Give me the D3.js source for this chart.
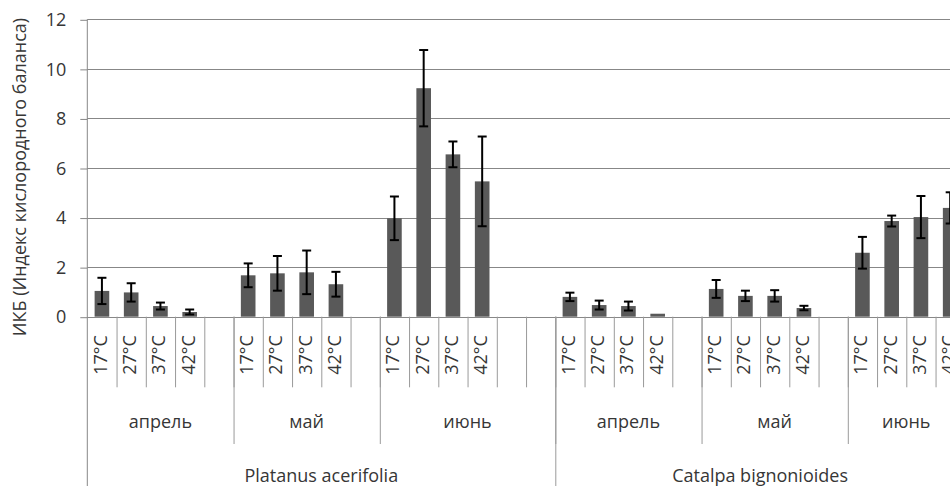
<!DOCTYPE html>
<html><head><meta charset="utf-8">
<script src="https://cdn.jsdelivr.net/npm/d3@7"></script>
<style>
html,body{margin:0;padding:0;background:#fff;overflow:hidden}
svg{display:block;font-family:"Open Sans",sans-serif}
</style></head><body>
<svg id="c" width="950" height="486"></svg>
<script>
// ---- data ----
const species = ["Platanus acerifolia", "Catalpa bignonioides"];
const months = ["апрель", "май", "июнь"];
const temps = ["17°C", "27°C", "37°C", "42°C"];
// empty category slots after each month group (per species)
const blankSlots = [[1, 1, 2], [1, 1, 0]];
const platanusValues = [1.04, 0.98, 0.43, 0.19, 1.67, 1.75, 1.79, 1.31, 3.97, 9.22, 6.55, 5.46];
const platanusErrors = [0.53, 0.37, 0.14, 0.10, 0.48, 0.70, 0.88, 0.50, 0.88, 1.54, 0.52, 1.81];
const catalpaValues = [0.80, 0.47, 0.43, 0.12, 1.12, 0.84, 0.84, 0.35, 2.58, 3.86, 4.02, 4.39];
const catalpaErrors = [0.17, 0.18, 0.18, 0.00, 0.36, 0.21, 0.23, 0.09, 0.64, 0.22, 0.85, 0.63];
const yTicks = [0, 2, 4, 6, 8, 10, 12];
const yTitle = "ИКБ (Индекс кислородного баланса)";

const seriesVals = [platanusValues, catalpaValues];
const seriesErrs = [platanusErrors, catalpaErrors];

// ---- build category slots ----
const slots = [];
const monthGroups = [];
const speciesGroups = [];
species.forEach((sp, si) => {
  const spStart = slots.length;
  months.forEach((mo, mi) => {
    const moStart = slots.length;
    temps.forEach((t, ti) => {
      const idx = mi * temps.length + ti;
      slots.push({key: si + "|" + mi + "|" + t, sp: si, mo: mi, temp: t,
        value: seriesVals[si][idx], err: seriesErrs[si][idx]});
    });
    for (let b = 0; b < blankSlots[si][mi]; b++) {
      slots.push({key: si + "|" + mi + "|_" + b, sp: si, mo: mi, temp: "", value: null});
    }
    monthGroups.push({label: mo, start: moStart, end: slots.length});
  });
  speciesGroups.push({label: sp, start: spStart, end: slots.length});
});

// ---- layout ----
const svg = d3.select("#c");
const x0 = 87.3, step = 29.25;
const yTop = 19.3, yBot = 316.7;
const FS = 18;
const txtCol = "#363636";
const x = d3.scaleBand().domain(slots.map(d => d.key))
  .range([x0, x0 + step * slots.length]).paddingInner(0).paddingOuter(0);
const y = d3.scaleLinear().domain([0, 12]).range([yBot, yTop]);
const xEdge = i => x0 + i * x.step();
const gridCol = "#878787";
const sepCol = "#9a9a9a";

// gridlines
svg.append("g").selectAll("line").data(yTicks).join("line")
  .attr("x1", x0).attr("x2", x0 + step * slots.length)
  .attr("y1", d => Math.round(y(d)) + 0.5).attr("y2", d => Math.round(y(d)) + 0.5)
  .attr("stroke", gridCol).attr("stroke-width", 1);

// y axis
const yAxis = d3.axisLeft(y).tickValues(yTicks).tickSize(7).tickPadding(14);
const ga = svg.append("g").attr("transform", "translate(" + x0 + ",0.5)").call(yAxis);
ga.select(".domain").remove();
ga.selectAll(".tick line").attr("stroke", gridCol);
ga.selectAll(".tick text").attr("font-size", FS).attr("fill", txtCol).attr("font-family", "Open Sans");
svg.append("line").attr("x1", x0).attr("x2", x0).attr("y1", yTop).attr("y2", 486)
  .attr("stroke", gridCol);

// bars
const barW = x.bandwidth() / 2;
const data = slots.filter(d => d.value !== null);
svg.append("g").selectAll("rect").data(data).join("rect")
  .attr("x", d => x(d.key) + x.bandwidth() / 2 - barW / 2)
  .attr("width", barW)
  .attr("y", d => y(d.value))
  .attr("height", d => y(0) - y(d.value))
  .attr("fill", "#595959");

// error bars
const eb = svg.append("g").attr("stroke", "#000").attr("stroke-width", 2);
data.filter(d => d.err > 0).forEach(d => {
  const cx = x(d.key) + x.bandwidth() / 2;
  const t = y(d.value + d.err), b = y(Math.max(0, d.value - d.err));
  eb.append("line").attr("x1", cx).attr("x2", cx).attr("y1", t).attr("y2", b);
  eb.append("line").attr("x1", cx - 4.5).attr("x2", cx + 4.5).attr("y1", t).attr("y2", t);
  eb.append("line").attr("x1", cx - 4.5).attr("x2", cx + 4.5).attr("y1", b).attr("y2", b);
});

// category level 1: temperatures
const sep = svg.append("g").attr("stroke", sepCol).attr("stroke-width", 1);
slots.forEach((d, i) => {
  if (i > 0) sep.append("line").attr("x1", xEdge(i) + 0.5).attr("x2", xEdge(i) + 0.5)
    .attr("y1", yBot).attr("y2", 387.3);
});
svg.append("g").selectAll("text").data(slots.filter(d => d.temp)).join("text")
  .attr("transform", d => "translate(" + (x(d.key) + x.bandwidth() / 2) + ",355) rotate(-90)")
  .attr("text-anchor", "middle").attr("dy", "0.27em")
  .attr("font-size", FS).attr("fill", txtCol).text(d => d.temp);

// level 2: months
monthGroups.forEach(g => {
  if (g.start > 0) sep.append("line").attr("x1", xEdge(g.start) + 0.5).attr("x2", xEdge(g.start) + 0.5)
    .attr("y1", yBot).attr("y2", 444);
});
svg.append("g").selectAll("text").data(monthGroups).join("text")
  .attr("x", d => (xEdge(d.start) + xEdge(d.end)) / 2).attr("y", 427.5)
  .attr("text-anchor", "middle").attr("font-size", FS).attr("fill", txtCol).text(d => d.label);

// level 3: species
speciesGroups.forEach(g => {
  sep.append("line").attr("x1", xEdge(g.end) + 0.5).attr("x2", xEdge(g.end) + 0.5)
    .attr("y1", yBot).attr("y2", 486);
});
svg.append("g").selectAll("text").data(speciesGroups).join("text")
  .attr("x", d => (xEdge(d.start) + xEdge(d.end)) / 2).attr("y", 481.5)
  .attr("text-anchor", "middle").attr("font-size", FS).attr("fill", txtCol).text(d => d.label);

// y title
svg.append("text").attr("transform", "translate(20,177) rotate(-90)")
  .attr("text-anchor", "middle").attr("dy", "0.35em").attr("font-size", FS).attr("fill", txtCol)
  .text(yTitle);
</script></body></html>
